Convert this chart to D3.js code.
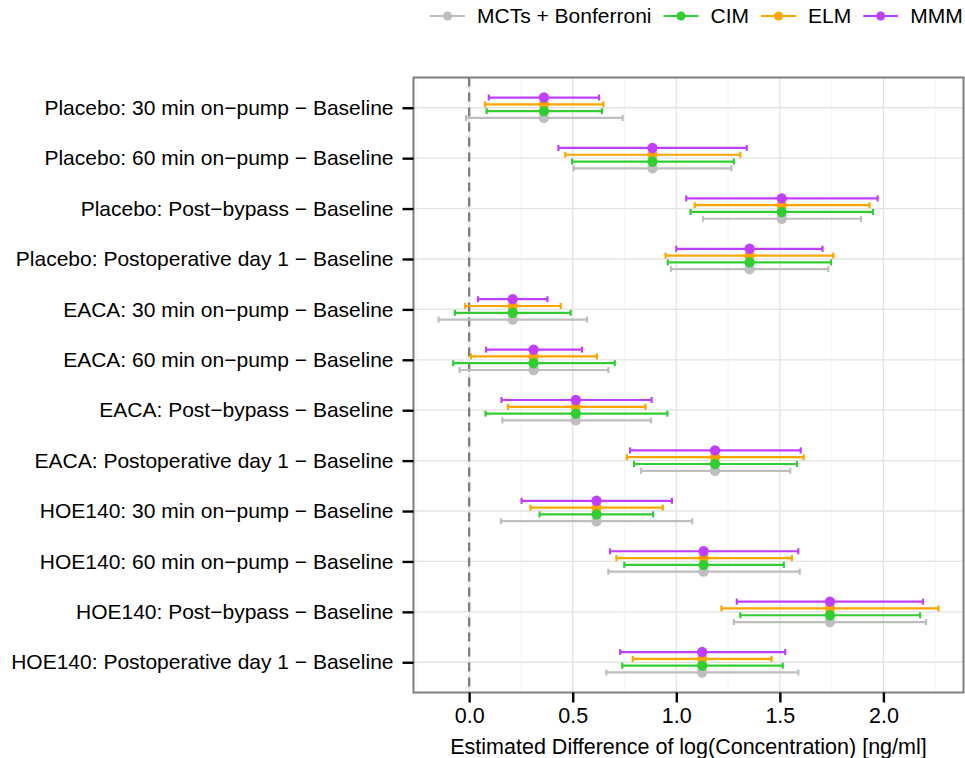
<!DOCTYPE html>
<html>
<head>
<meta charset="utf-8">
<script src="https://cdn.jsdelivr.net/npm/d3@7"></script>
<style>
  body { margin: 0; background: #fff; }
  text { font-family: "Liberation Sans", Arial, Helvetica, sans-serif; }
</style>
</head>
<body>
<div id="chart"></div>
<script>
// comparisons, top to bottom
var comparisons = [
  "Placebo: 30 min on\u2212pump \u2212 Baseline",
  "Placebo: 60 min on\u2212pump \u2212 Baseline",
  "Placebo: Post\u2212bypass \u2212 Baseline",
  "Placebo: Postoperative day 1 \u2212 Baseline",
  "EACA: 30 min on\u2212pump \u2212 Baseline",
  "EACA: 60 min on\u2212pump \u2212 Baseline",
  "EACA: Post\u2212bypass \u2212 Baseline",
  "EACA: Postoperative day 1 \u2212 Baseline",
  "HOE140: 30 min on\u2212pump \u2212 Baseline",
  "HOE140: 60 min on\u2212pump \u2212 Baseline",
  "HOE140: Post\u2212bypass \u2212 Baseline",
  "HOE140: Postoperative day 1 \u2212 Baseline"
];
var methods = ["MCTs + Bonferroni", "CIM", "ELM", "MMM"];
var methodColors = ["#bebebe", "#32cd32", "#ffa500", "#bf3eff"];

// point estimate (same for every method)
var estimate = [0.361, 0.885, 1.509, 1.354, 0.210, 0.311, 0.515, 1.187, 0.615, 1.132, 1.742, 1.125];

// lower / upper limits per method
var lowMCT = [-0.015, 0.505, 1.129, 0.974, -0.148, -0.046, 0.160, 0.830, 0.153, 0.672, 1.278, 0.662];
var uppMCT = [0.741, 1.266, 1.892, 1.734, 0.569, 0.672, 0.878, 1.550, 1.077, 1.596, 2.206, 1.589];
var lowCIM = [0.084, 0.497, 1.069, 0.959, -0.069, -0.077, 0.079, 0.796, 0.340, 0.749, 1.309, 0.739];
var uppCIM = [0.641, 1.278, 1.950, 1.747, 0.490, 0.703, 0.957, 1.582, 0.888, 1.519, 2.177, 1.514];
var lowELM = [0.077, 0.464, 1.089, 0.948, -0.019, 0.009, 0.187, 0.761, 0.296, 0.711, 1.218, 0.790];
var uppELM = [0.648, 1.309, 1.933, 1.758, 0.442, 0.617, 0.851, 1.615, 0.935, 1.558, 2.266, 1.460];
var lowMMM = [0.095, 0.431, 1.048, 1.000, 0.043, 0.082, 0.156, 0.777, 0.253, 0.680, 1.292, 0.729];
var uppMMM = [0.627, 1.340, 1.972, 1.706, 0.378, 0.545, 0.881, 1.601, 0.979, 1.589, 2.191, 1.526];

var lows = [lowMCT, lowCIM, lowELM, lowMMM];
var upps = [uppMCT, uppCIM, uppELM, uppMMM];

var xTicks = [0, 0.5, 1, 1.5, 2];
var xMinor = [-0.25, 0.25, 0.75, 1.25, 1.75, 2.25];

var W = 965, H = 758;
var margin = {left: 413.5, right: 1.5, top: 77.5, bottom: 65.5};

var svg = d3.select("#chart").append("svg")
    .attr("width", W)
    .attr("height", H);

var rows = [];
methods.forEach(function(m, k){
  comparisons.forEach(function(c, i){
    rows.push({comp: c, method: k, est: estimate[i], lo: lows[k][i], hi: upps[k][i]});
  });
});

var allVals = rows.map(function(d){return d.lo;}).concat(rows.map(function(d){return d.hi;}));
var xmin = d3.min(allVals), xmax = d3.max(allVals);
var pad = (xmax - xmin) * 0.05;

var x = d3.scaleLinear()
    .domain([xmin - pad, xmax + pad])
    .range([margin.left, W - margin.right]);

var y = d3.scalePoint()
    .domain(comparisons)
    .range([margin.top, H - margin.bottom])
    .padding(0.6);

// dodge: gray lowest, purple on top
var dodgeStep = 6.8;
function yPos(d){ return y(d.comp) + (1.5 - d.method) * dodgeStep; }

// grid
var g = svg.append("g");
g.selectAll(".minor").data(xMinor.filter(function(v){return x(v) > margin.left;})).enter().append("line")
  .attr("x1", function(d){return x(d);}).attr("x2", function(d){return x(d);})
  .attr("y1", margin.top).attr("y2", H - margin.bottom)
  .style("stroke", "#f5f5f5").style("stroke-width", 1.2);
g.selectAll(".majx").data(xTicks).enter().append("line")
  .attr("x1", function(d){return x(d);}).attr("x2", function(d){return x(d);})
  .attr("y1", margin.top).attr("y2", H - margin.bottom)
  .style("stroke", "#e3e3e3").style("stroke-width", 1.3);
g.selectAll(".majy").data(comparisons).enter().append("line")
  .attr("x1", margin.left).attr("x2", W - margin.right)
  .attr("y1", function(d){return y(d);}).attr("y2", function(d){return y(d);})
  .style("stroke", "#e3e3e3").style("stroke-width", 1.3);

// zero reference
svg.append("line")
  .attr("x1", x(0)).attr("x2", x(0))
  .attr("y1", margin.top).attr("y2", H - margin.bottom)
  .style("stroke", "#7f7f7f").style("stroke-width", 2.4)
  .style("stroke-dasharray", "9,6");

// error bars
var capH = 3;
var eb = svg.append("g").selectAll("g").data(rows).enter().append("g")
  .style("stroke", function(d){return methodColors[d.method];})
  .style("stroke-width", 2.2);
eb.append("line")
  .attr("x1", function(d){return x(d.lo);}).attr("x2", function(d){return x(d.hi);})
  .attr("y1", yPos).attr("y2", yPos);
eb.append("line")
  .attr("x1", function(d){return x(d.lo);}).attr("x2", function(d){return x(d.lo);})
  .attr("y1", function(d){return yPos(d) - capH;}).attr("y2", function(d){return yPos(d) + capH;});
eb.append("line")
  .attr("x1", function(d){return x(d.hi);}).attr("x2", function(d){return x(d.hi);})
  .attr("y1", function(d){return yPos(d) - capH;}).attr("y2", function(d){return yPos(d) + capH;});

// points: gray, orange, green, purple
var drawOrder = [0, 2, 1, 3];
drawOrder.forEach(function(k){
  svg.append("g").selectAll("circle")
    .data(rows.filter(function(d){return d.method == k;}))
    .enter().append("circle")
    .attr("cx", function(d){return x(d.est);})
    .attr("cy", yPos)
    .attr("r", 5.2)
    .style("fill", methodColors[k]);
});

// panel border
svg.append("rect")
  .attr("x", margin.left).attr("y", margin.top)
  .attr("width", W - margin.right - margin.left)
  .attr("height", H - margin.bottom - margin.top)
  .style("fill", "none").style("stroke", "#7f7f7f").style("stroke-width", 2);

// axes
var xAxis = svg.append("g")
  .attr("transform", "translate(0," + (H - margin.bottom) + ")")
  .call(d3.axisBottom(x).tickValues(xTicks).tickFormat(d3.format(".1f")).tickSize(10).tickPadding(5));
var yAxis = svg.append("g")
  .attr("transform", "translate(" + margin.left + ",0)")
  .call(d3.axisLeft(y).tickSize(11).tickPadding(9));
[xAxis, yAxis].forEach(function(a){
  a.select(".domain").remove();
  a.selectAll(".tick line").style("stroke", "#000").style("stroke-width", 2.4);
  a.selectAll(".tick text").style("fill", "#000").style("font-family", "Liberation Sans, Arial, sans-serif");
});
xAxis.selectAll(".tick text").style("font-size", "21.5px");
yAxis.selectAll(".tick text").style("font-size", "21px");

svg.append("text")
  .attr("x", (margin.left + W - margin.right) / 2)
  .attr("y", 754)
  .attr("text-anchor", "middle")
  .style("font-size", "21.5px")
  .text("Estimated Difference of log(Concentration) [ng/ml]");

// legend
var leg = svg.append("g");
var lx = 430, ly = 16;
methods.forEach(function(m, k){
  leg.append("line")
    .attr("x1", lx).attr("x2", lx + 35)
    .attr("y1", ly).attr("y2", ly)
    .style("stroke", methodColors[k]).style("stroke-width", 2.2);
  leg.append("circle")
    .attr("cx", lx + 17.5).attr("cy", ly).attr("r", 4.5)
    .style("fill", methodColors[k]);
  var t = leg.append("text")
    .attr("x", lx + 47).attr("y", ly)
    .attr("dy", "0.35em")
    .style("font-size", "21px")
    .text(m);
  lx = lx + 47 + t.node().getComputedTextLength() + 12;
});
</script>
</body>
</html>
